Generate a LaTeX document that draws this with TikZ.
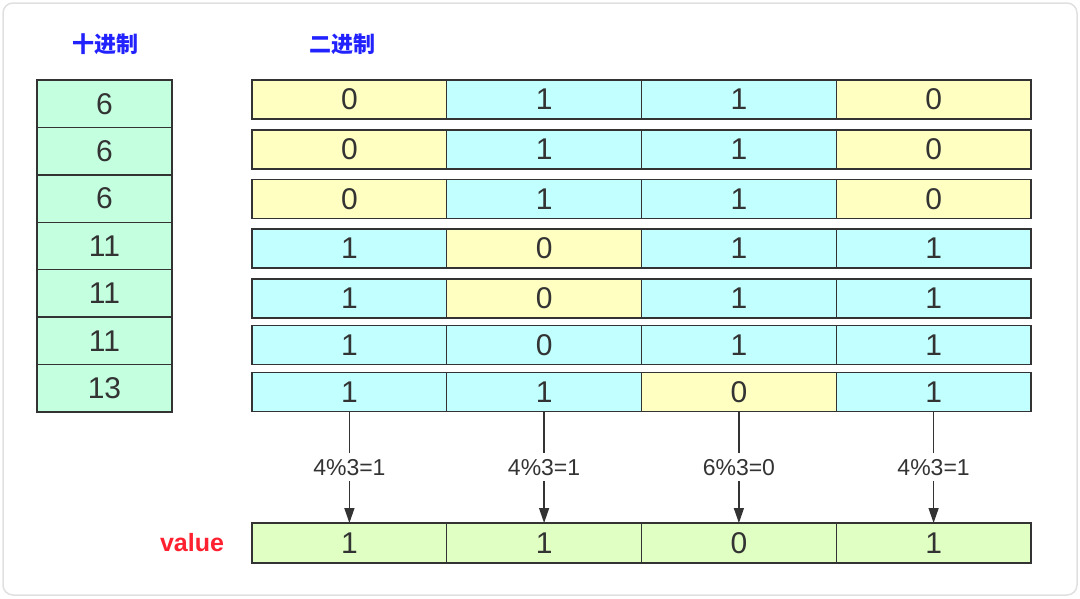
\documentclass[tikz,border=0pt]{standalone}
\usepackage{fontspec}
\setmainfont{Liberation Sans}
\newfontfamily\cjk{Noto Sans CJK SC}
\usepackage{tikz}
\usetikzlibrary{arrows.meta}
\definecolor{lineg}{HTML}{333333}
\definecolor{cellY}{HTML}{FFFFC2}
\definecolor{cellC}{HTML}{C2FFFF}
\definecolor{cellM}{HTML}{C4FFE0}
\definecolor{cellG}{HTML}{E0FFC2}
\definecolor{titleb}{HTML}{2222FF}
\definecolor{valr}{HTML}{FF2030}
\tikzset{
	bit/.style={draw=lineg, line width=1.4pt, minimum width=194.75pt, minimum height=39pt, inner sep=0pt, outer sep=0pt, font=\fontsize{30}{30}\selectfont, text=lineg},
	dec/.style={draw=lineg, line width=1.4pt, fill=cellM, minimum width=135pt, minimum height=47.43pt, inner sep=0pt, outer sep=0pt, font=\fontsize{30}{30}\selectfont, text=lineg},
	modarrow/.style={draw=lineg, line width=1.4pt, -{Triangle[length=15pt,width=10pt]}},
	modlabel/.style={fill=white, inner xsep=2pt, inner ysep=6pt, font=\fontsize{23}{23}\selectfont, text=lineg}
}
\begin{document}
\begin{tikzpicture}[x=1pt,y=-1pt]
	\useasboundingbox (0,0) rectangle (1080,598);
	\draw[rounded corners=10pt, draw=black!12, line width=1.5pt] (3,3) rectangle (1077,595);
	% titles
	\node[text=titleb, font=\cjk\bfseries\fontsize{22}{22}\selectfont] (tdec) at (105,44) {十进制};
	\node[text=titleb, font=\cjk\bfseries\fontsize{22}{22}\selectfont] (tbin) at (342,44) {二进制};
	% decimal column
	\node[dec] (d1) at (104.5,103.7) {6};
	\node[dec] (d2) at (104.5,151.1) {6};
	\node[dec] (d3) at (104.5,198.6) {6};
	\node[dec] (d4) at (104.5,246.0) {11};
	\node[dec] (d5) at (104.5,293.4) {11};
	\node[dec] (d6) at (104.5,340.9) {11};
	\node[dec] (d7) at (104.5,388.3) {13};
	% binary rows
	\node[bit, fill=cellY] (r1c1) at (349.4,99.5) {0};
	\node[bit, fill=cellC] (r1c2) at (544.1,99.5) {1};
	\node[bit, fill=cellC] (r1c3) at (738.9,99.5) {1};
	\node[bit, fill=cellY] (r1c4) at (933.6,99.5) {0};
	\node[bit, fill=cellY] (r2c1) at (349.4,149.5) {0};
	\node[bit, fill=cellC] (r2c2) at (544.1,149.5) {1};
	\node[bit, fill=cellC] (r2c3) at (738.9,149.5) {1};
	\node[bit, fill=cellY] (r2c4) at (933.6,149.5) {0};
	\node[bit, fill=cellY] (r3c1) at (349.4,199) {0};
	\node[bit, fill=cellC] (r3c2) at (544.1,199) {1};
	\node[bit, fill=cellC] (r3c3) at (738.9,199) {1};
	\node[bit, fill=cellY] (r3c4) at (933.6,199) {0};
	\node[bit, fill=cellC] (r4c1) at (349.4,248.5) {1};
	\node[bit, fill=cellY] (r4c2) at (544.1,248.5) {0};
	\node[bit, fill=cellC] (r4c3) at (738.9,248.5) {1};
	\node[bit, fill=cellC] (r4c4) at (933.6,248.5) {1};
	\node[bit, fill=cellC] (r5c1) at (349.4,298.5) {1};
	\node[bit, fill=cellY] (r5c2) at (544.1,298.5) {0};
	\node[bit, fill=cellC] (r5c3) at (738.9,298.5) {1};
	\node[bit, fill=cellC] (r5c4) at (933.6,298.5) {1};
	\node[bit, fill=cellC] (r6c1) at (349.4,345) {1};
	\node[bit, fill=cellC] (r6c2) at (544.1,345) {0};
	\node[bit, fill=cellC] (r6c3) at (738.9,345) {1};
	\node[bit, fill=cellC] (r6c4) at (933.6,345) {1};
	\node[bit, fill=cellC] (r7c1) at (349.4,392) {1};
	\node[bit, fill=cellC] (r7c2) at (544.1,392) {1};
	\node[bit, fill=cellY] (r7c3) at (738.9,392) {0};
	\node[bit, fill=cellC] (r7c4) at (933.6,392) {1};
	% value row
	\node[text=valr, font=\bfseries\fontsize{25}{25}\selectfont] (val) at (192,543) {value};
	\node[bit, fill=cellG, minimum height=40pt] (v1) at (349.4,543) {1};
	\node[bit, fill=cellG, minimum height=40pt] (v2) at (544.1,543) {1};
	\node[bit, fill=cellG, minimum height=40pt] (v3) at (738.9,543) {0};
	\node[bit, fill=cellG, minimum height=40pt] (v4) at (933.6,543) {1};
	% mod 3
	\draw[modarrow] (r7c1) -- node[modlabel] {4\%3=1} (v1);
	\draw[modarrow] (r7c2) -- node[modlabel] {4\%3=1} (v2);
	\draw[modarrow] (r7c3) -- node[modlabel] {6\%3=0} (v3);
	\draw[modarrow] (r7c4) -- node[modlabel] {4\%3=1} (v4);
\end{tikzpicture}
\end{document}
